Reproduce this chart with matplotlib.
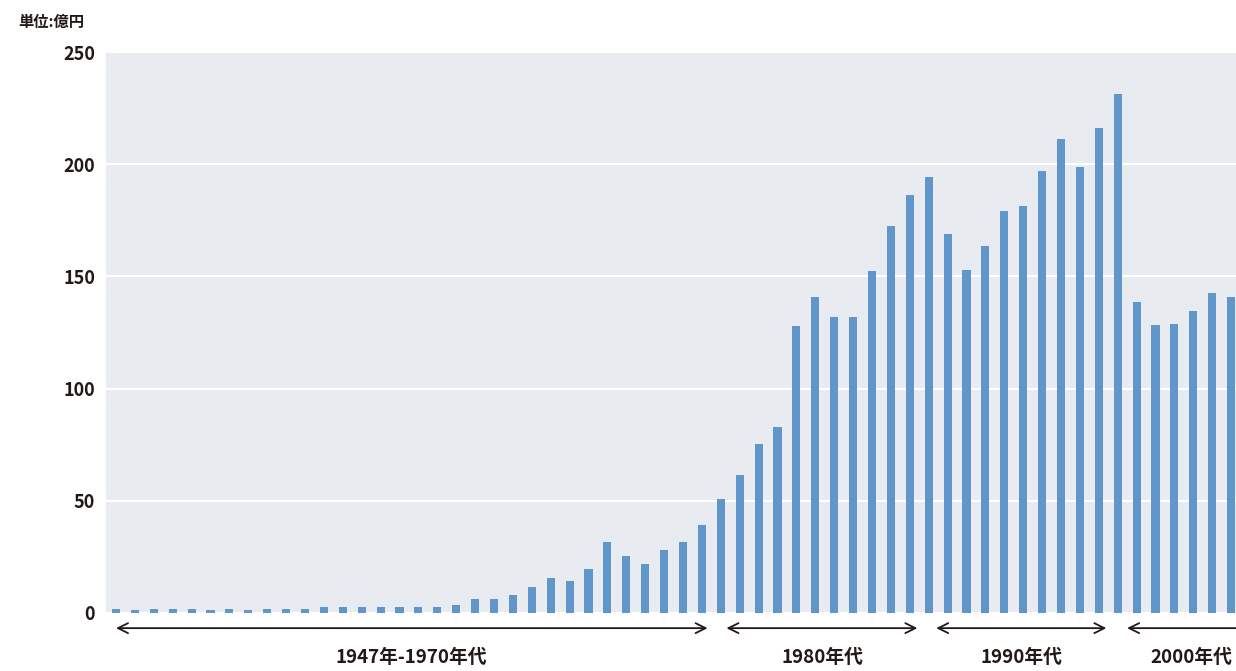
import numpy as np
import matplotlib
matplotlib.use('Agg')
import matplotlib.pyplot as plt
import matplotlib.transforms as mtransforms

plt.rcParams['font.family'] = ['Noto Sans CJK JP', 'DejaVu Sans']

# 年度と金額(単位:億円)
years = list(range(1947, 2007))
values = [1.6, 1.5, 2.0, 1.6, 2.0, 1.5, 2.0, 1.5, 2.0, 2.0,
          2.0, 2.5, 2.5, 2.5, 2.5, 2.5, 2.5, 2.5, 3.5, 6.3,
          6.3, 8.0, 11.6, 15.7, 14.3, 19.7, 31.8, 25.5, 21.9, 28.2,
          31.8, 39.4, 51.0, 61.4, 75.1, 83.1, 127.7, 141.0, 131.7, 132.1,
          152.6, 172.3, 186.1, 194.5, 168.7, 153.0, 163.4, 179.2, 181.5, 197.1,
          211.4, 198.9, 216.2, 231.2, 138.4, 128.2, 129.0, 134.8, 142.8, 141.0]
y_ticks = [0, 50, 100, 150, 200, 250]

# 年代の区切り (開始年, 終了年, ラベル)
periods = [(1947, 1978.3, '1947年-1970年代'),
           (1979.3, 1989.4, '1980年代'),
           (1990.4, 1999.4, '1990年代'),
           (2000.5, 2008, '2000年代')]
label_x = [15.6, 37.4, 47.9, 56.9]

text_color = '#231815'

fig = plt.figure(figsize=(12.36, 6.71), dpi=100)
ax = fig.add_axes([106 / 1236, 1 - 613 / 671, 1130 / 1236, 561 / 671])
ax.set_facecolor('#e8ebef')

x = np.arange(len(years))
ax.bar(x, values, width=0.43, color='#6096c9', zorder=3)

ax.set_xlim(-0.53, len(years) - 0.74)
ax.set_ylim(0, 250)
ax.set_yticks(y_ticks)
ax.set_yticklabels([str(v) for v in y_ticks], fontsize=13, fontweight='bold', color=text_color)
ax.set_xticks([])
ax.tick_params(axis='y', length=0, pad=8)
ax.yaxis.grid(True, color='white', linewidth=1.5, zorder=1)
for s in ax.spines.values():
    s.set_visible(False)

# 年代の矢印とラベル
trans = mtransforms.blended_transform_factory(ax.transData, ax.transAxes)
for start, end, label in periods:
    style = '<->' if end < 2006 else '<-'
    ax.annotate('', xy=(end - 1947, -0.027), xytext=(start - 1947, -0.027),
                xycoords=trans, textcoords=trans,
                arrowprops=dict(arrowstyle=style, color=text_color, lw=1.3,
                                mutation_scale=18, shrinkA=0, shrinkB=0),
                annotation_clip=False)

for (start, end, label), lx in zip(periods, label_x):
    ax.text(lx, -0.08, label, transform=trans, ha='center', va='center',
            fontsize=13.5, fontweight='bold', color=text_color)

fig.text(18 / 1236, 1 - 22 / 671, '単位:億円', ha='left', va='center',
         fontsize=11, fontweight='bold', color=text_color)

fig.savefig('out.png', dpi=100)
